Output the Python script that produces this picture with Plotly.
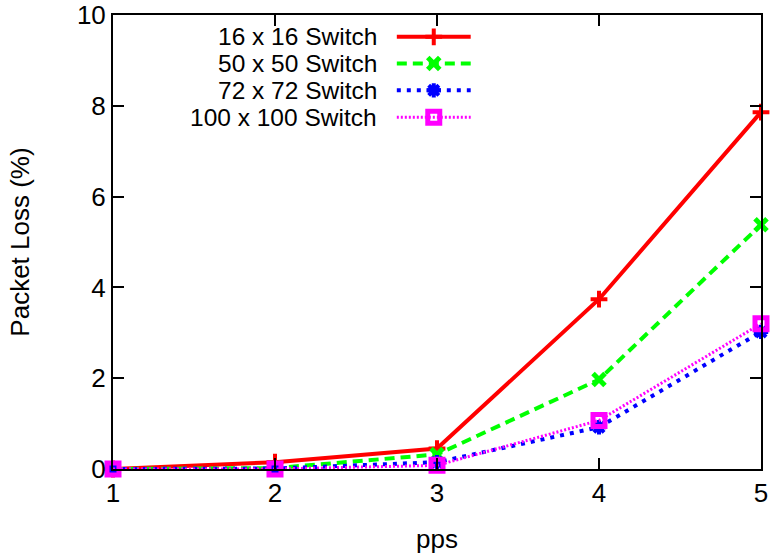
import plotly.graph_objects as go

pps = [1, 2, 3, 4, 5]
loss_16 = [0.0, 0.15, 0.45, 3.74, 7.86]
loss_50 = [0.0, 0.02, 0.32, 1.97, 5.38]
loss_72 = [0.0, 0.01, 0.15, 0.92, 3.02]
loss_100 = [0.0, 0.0, 0.08, 1.07, 3.20]
names = ["16 x 16 Switch", "50 x 50 Switch", "72 x 72 Switch", "100 x 100 Switch"]
y_ticks = [0, 2, 4, 6, 8, 10]

styles = [
    dict(color="#ff0000", dash="solid", width=4, symbol="cross-thin-open", msize=12, mlw=4),
    dict(color="#00ff00", dash="10px,6px", width=4, symbol="x-thin-open", msize=12, mlw=5),
    dict(color="#0000ff", dash="4px,6px", width=4, symbol="asterisk-open", msize=12, mlw=4),
    dict(color="#ff00ff", dash="2px,2px", width=3, symbol="square-open", msize=12, mlw=5),
]
series = [loss_16, loss_50, loss_72, loss_100]

FONT = "Liberation Sans, Arial, sans-serif"
FS = 26
fig = go.Figure()
for name, vals, st in zip(names, series, styles):
    fig.add_trace(go.Scatter(
        x=pps, y=vals, mode="lines+markers", name=name, showlegend=False,
        line=dict(color=st["color"], width=st["width"], dash=st["dash"]),
        marker=dict(symbol=st["symbol"], size=st["msize"], color=st["color"],
                    line=dict(color=st["color"], width=st["mlw"])),
        cliponaxis=False,
    ))

# custom gnuplot-style legend (text left of sample)
leg_y = [0.952, 0.893, 0.834, 0.775]
for name, st, ly in zip(names, styles, leg_y):
    fig.add_trace(go.Scatter(
        x=[0.438, 0.552], y=[ly, ly], mode="lines", xaxis="x2", yaxis="y2",
        showlegend=False, hoverinfo="skip",
        line=dict(color=st["color"], width=st["width"], dash=st["dash"]),
    ))
    fig.add_trace(go.Scatter(
        x=[0.495], y=[ly], mode="markers", xaxis="x2", yaxis="y2",
        showlegend=False, hoverinfo="skip",
        marker=dict(symbol=st["symbol"], size=st["msize"], color=st["color"],
                    line=dict(color=st["color"], width=st["mlw"])),
    ))
    fig.add_annotation(x=0.410, y=ly, xref="x2", yref="y2", text=name,
                       showarrow=False, xanchor="right", yanchor="middle",
                       font=dict(family=FONT, size=24.5, color="black"))

axis_common = dict(showgrid=False, zeroline=False, showline=True, linecolor="black",
                   linewidth=2, mirror="ticks", ticks="inside", ticklen=11,
                   tickwidth=1.5, tickcolor="black", automargin=False,
                   ticklabeloverflow="allow",
                   tickfont=dict(family=FONT, size=FS, color="black"))
fig.update_layout(
    width=773, height=554,
    margin=dict(l=113, r=12, t=15, b=85),
    paper_bgcolor="white", plot_bgcolor="white",
    xaxis=dict(range=[1, 5], tickvals=pps, ticktext=[str(p) for p in pps],
               title=dict(text="pps", font=dict(family=FONT, size=FS, color="black"), standoff=28),
               **axis_common),
    yaxis=dict(range=[0, 10], tickvals=y_ticks, ticktext=[str(v) for v in y_ticks],
               title=dict(text="Packet Loss (%)", font=dict(family=FONT, size=FS, color="black"), standoff=40),
               **axis_common),
    xaxis2=dict(range=[0, 1], overlaying="x", visible=False),
    yaxis2=dict(range=[0, 1], overlaying="y", visible=False),
)
fig.write_html("out.html")
